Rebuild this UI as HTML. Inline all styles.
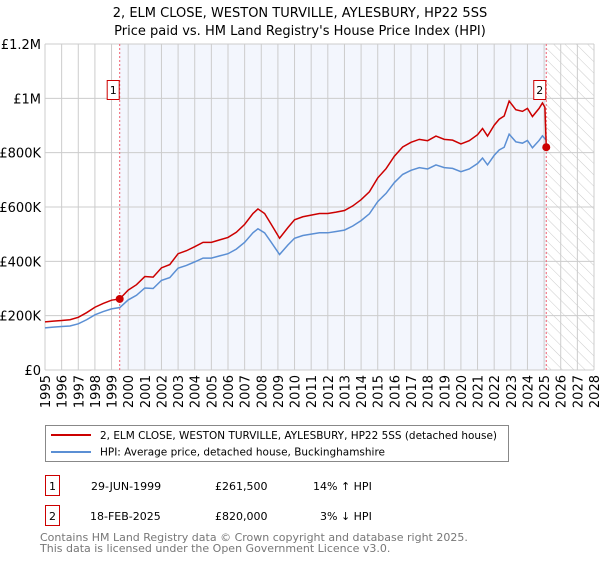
<!DOCTYPE html>
<html><head><meta charset="utf-8"><style>
body{margin:0;background:#fff;font-family:"DejaVu Sans","Liberation Sans",sans-serif;}
svg text{font-family:"DejaVu Sans","Liberation Sans",sans-serif;}
</style></head><body>
<svg id="c" width="600" height="560" xmlns="http://www.w3.org/2000/svg">
<defs><pattern id="hatch" width="8" height="8" patternUnits="userSpaceOnUse" patternTransform="rotate(-45)"><line x1="0" y1="0" x2="0" y2="8" stroke="#ccc" stroke-width="1"/></pattern></defs>
<text x="300" y="17" text-anchor="middle" font-size="13">2, ELM CLOSE, WESTON TURVILLE, AYLESBURY, HP22 5SS</text>
<text x="300" y="35" text-anchor="middle" font-size="13">Price paid vs. HM Land Registry's House Price Index (HPI)</text>
<g id="plot"></g>
<g font-size="13" text-anchor="end">
<text transform="translate(50,375) rotate(-90)">1995</text>
<text transform="translate(66.64,375) rotate(-90)">1996</text>
<text transform="translate(83.27,375) rotate(-90)">1997</text>
<text transform="translate(99.91,375) rotate(-90)">1998</text>
<text transform="translate(116.55,375) rotate(-90)">1999</text>
<text transform="translate(133.18,375) rotate(-90)">2000</text>
<text transform="translate(149.82,375) rotate(-90)">2001</text>
<text transform="translate(166.45,375) rotate(-90)">2002</text>
<text transform="translate(183.09,375) rotate(-90)">2003</text>
<text transform="translate(199.73,375) rotate(-90)">2004</text>
<text transform="translate(216.36,375) rotate(-90)">2005</text>
<text transform="translate(233,375) rotate(-90)">2006</text>
<text transform="translate(249.64,375) rotate(-90)">2007</text>
<text transform="translate(266.27,375) rotate(-90)">2008</text>
<text transform="translate(282.91,375) rotate(-90)">2009</text>
<text transform="translate(299.55,375) rotate(-90)">2010</text>
<text transform="translate(316.18,375) rotate(-90)">2011</text>
<text transform="translate(332.82,375) rotate(-90)">2012</text>
<text transform="translate(349.45,375) rotate(-90)">2013</text>
<text transform="translate(366.09,375) rotate(-90)">2014</text>
<text transform="translate(382.73,375) rotate(-90)">2015</text>
<text transform="translate(399.36,375) rotate(-90)">2016</text>
<text transform="translate(416,375) rotate(-90)">2017</text>
<text transform="translate(432.64,375) rotate(-90)">2018</text>
<text transform="translate(449.27,375) rotate(-90)">2019</text>
<text transform="translate(465.91,375) rotate(-90)">2020</text>
<text transform="translate(482.55,375) rotate(-90)">2021</text>
<text transform="translate(499.18,375) rotate(-90)">2022</text>
<text transform="translate(515.82,375) rotate(-90)">2023</text>
<text transform="translate(532.45,375) rotate(-90)">2024</text>
<text transform="translate(549.09,375) rotate(-90)">2025</text>
<text transform="translate(565.73,375) rotate(-90)">2026</text>
<text transform="translate(582.36,375) rotate(-90)">2027</text>
<text transform="translate(599,375) rotate(-90)">2028</text>
</g>
<g>
<rect x="45.5" y="425.5" width="463" height="36" fill="#fff" stroke="#888"/>
<line x1="51" y1="435" x2="91" y2="435" stroke="#cc0000" stroke-width="2"/>
<text x="100" y="439" font-size="11" textLength="397" lengthAdjust="spacingAndGlyphs">2, ELM CLOSE, WESTON TURVILLE, AYLESBURY, HP22 5SS (detached house)</text>
<line x1="51" y1="452" x2="91" y2="452" stroke="#5b8fd4" stroke-width="2"/>
<text x="100" y="455.5" font-size="11" textLength="285" lengthAdjust="spacingAndGlyphs">HPI: Average price, detached house, Buckinghamshire</text>
</g>
<g font-size="11">
<rect x="45.5" y="475.5" width="14" height="20" fill="#fff" stroke="#cc0000"/>
<text x="52.5" y="490" text-anchor="middle">1</text>
<text x="91" y="490">29-JUN-1999</text><text x="215" y="490">£261,500</text><text x="313" y="490">14% ↑ HPI</text>
<rect x="45.5" y="505.5" width="14" height="20" fill="#fff" stroke="#cc0000"/>
<text x="52.5" y="520" text-anchor="middle">2</text>
<text x="90" y="520">18-FEB-2025</text><text x="215" y="520">£820,000</text><text x="320" y="520">3% ↓ HPI</text>
</g>
<text x="40" y="541" font-size="11" fill="#777">Contains HM Land Registry data © Crown copyright and database right 2025.</text>
<text x="40" y="552" font-size="11" fill="#777">This data is licensed under the Open Government Licence v3.0.</text>
</svg>
<script>
const yTicks=[0,200000,400000,600000,800000,1000000,1200000];
const yTickLabels=["£0","£200K","£400K","£600K","£800K","£1M","£1.2M"];
const xYears=[1995,1996,1997,1998,1999,2000,2001,2002,2003,2004,2005,2006,2007,2008,2009,2010,2011,2012,2013,2014,2015,2016,2017,2018,2019,2020,2021,2022,2023,2024,2025,2026,2027,2028];
const hpiT=[1995,1995.5,1996,1996.5,1997,1997.5,1998,1998.5,1999,1999.5,2000,2000.5,2001,2001.5,2002,2002.5,2003,2003.5,2004,2004.5,2005,2005.5,2006,2006.5,2007,2007.5,2007.8,2008.2,2008.6,2009.1,2009.6,2010,2010.5,2011,2011.5,2012,2012.5,2013,2013.5,2014,2014.5,2015,2015.5,2016,2016.5,2017,2017.5,2018,2018.5,2019,2019.5,2020,2020.5,2021,2021.3,2021.6,2022,2022.3,2022.6,2022.9,2023.3,2023.7,2024,2024.3,2024.7,2024.9,2025.1];
const hpiV=[155,158,160,162,170,185,203,215,225,230,258,275,302,300,330,340,375,385,398,412,412,420,428,445,470,505,520,505,470,425,460,485,495,500,505,505,510,515,530,550,575,620,650,690,720,735,745,740,755,745,742,730,740,760,780,755,790,810,820,868,840,835,845,818,845,862,848];
const redT=[1995,1995.5,1996,1996.5,1997,1997.5,1998,1998.5,1999,1999.49,2000,2000.5,2001,2001.5,2002,2002.5,2003,2003.5,2004,2004.5,2005,2005.5,2006,2006.5,2007,2007.5,2007.8,2008.2,2008.6,2009.1,2009.6,2010,2010.5,2011,2011.5,2012,2012.5,2013,2013.5,2014,2014.5,2015,2015.5,2016,2016.5,2017,2017.5,2018,2018.5,2019,2019.5,2020,2020.5,2021,2021.3,2021.6,2022,2022.3,2022.6,2022.9,2023.3,2023.7,2024,2024.3,2024.7,2024.9,2025.05,2025.13];
const redV=[177,180,182,185,194,211,231,245,257,261.5,294,314,344,342,376,388,428,439,454,470,470,479,488,507,536,576,593,576,536,485,524,553,564,570,576,576,581,587,604,627,656,707,741,787,821,838,849,844,861,849,846,832,844,866,889,861,901,923,935,990,958,952,963,933,963,983,967,820];
const saleT=[1999.49,2025.13];
const saleV=[261.5,820];
const saleLabels=["1","2"];
const L=45,R=594,T=44,B=370;
const x=t=>L+(t-1995)/(2028-1995)*(R-L);
const y=v=>B-v/1200000*(B-T);
const NS="http://www.w3.org/2000/svg";
const g=document.getElementById('plot');
function mk(tag,attrs,parent){const e=document.createElementNS(NS,tag);for(const k in attrs)e.setAttribute(k,attrs[k]);(parent||g).appendChild(e);return e;}
let e;
e=mk('rect',{x:x(saleT[0]),y:T,width:x(saleT[1])-x(saleT[0]),height:B-T,fill:'#f3f6fd'});


e=mk('rect',{x:x(saleT[1]),y:T,width:R-x(saleT[1]),height:B-T,fill:'url(#hatch)'});


xYears.forEach(yr=>{
  e=mk('line',{x1:x(yr),x2:x(yr),y1:T,y2:B,stroke:'#ccc','stroke-width':1});
  
  
});
yTicks.forEach((v,i)=>{
  e=mk('line',{x1:L,x2:R,y1:y(v),y2:y(v),stroke:'#ccc','stroke-width':1});
  
  
  e=mk('text',{x:L-4,y:y(v)+5,'font-size':13,'text-anchor':'end'});
  e.textContent=yTickLabels[i];
  
  
});
saleT.forEach(t=>{
  e=mk('line',{x1:x(t),x2:x(t),y1:T,y2:B,stroke:'#f06070','stroke-width':1,'stroke-dasharray':'2,2'});
  
  
});
e=mk('polyline',{points:hpiT.map((t,i)=>x(t)+','+y(hpiV[i]*1000)).join(' '),fill:'none',stroke:'#5b8fd4','stroke-width':1.5});


e=mk('polyline',{points:redT.map((t,i)=>x(t)+','+y(redV[i]*1000)).join(' '),fill:'none',stroke:'#cc0000','stroke-width':1.5});


saleT.forEach((t,i)=>{
  e=mk('circle',{cx:x(t),cy:y(saleV[i]*1000),r:4,fill:'#cc0000'});
  
  
  e=mk('rect',{x:x(t)-12.5,y:80.5,width:12,height:19,fill:'#fff',stroke:'#cc0000'});
  
  
  e=mk('text',{x:x(t)-6.5,y:94,'font-size':11,'text-anchor':'middle'});
  e.textContent=saleLabels[i];
  
  
});
</script>
</body></html>
